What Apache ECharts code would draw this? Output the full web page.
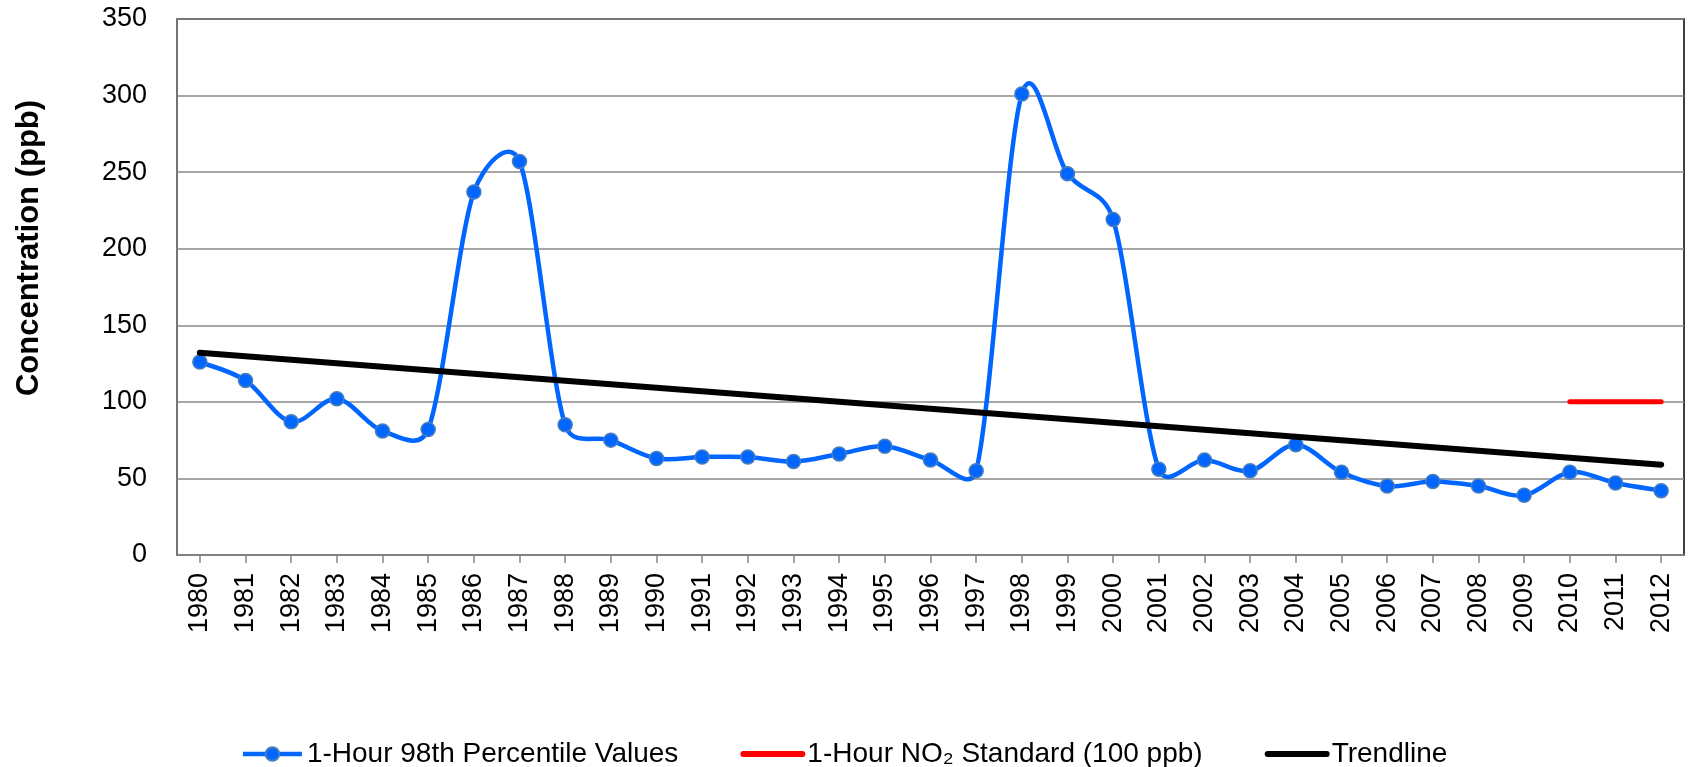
<!DOCTYPE html>
<html>
<head>
<meta charset="utf-8">
<script src="https://cdn.jsdelivr.net/npm/echarts@6/dist/echarts.min.js"></script>
<style>
  html, body {margin: 0; padding: 0; background: #fff;}
  #chart {width: 1688px; height: 767px;}
</style>
</head>
<body>
<div id="chart"></div>
<script>
const years = ['1980', '1981', '1982', '1983', '1984', '1985', '1986', '1987', '1988', '1989',
  '1990', '1991', '1992', '1993', '1994', '1995', '1996', '1997', '1998', '1999', '2000',
  '2001', '2002', '2003', '2004', '2005', '2006', '2007', '2008', '2009', '2010', '2011', '2012']

// 1-hour 98th percentile values (ppb)
const percentile98 = [126, 114, 87, 102, 81, 82, 237, 257, 85, 75,
  63, 64, 64, 61, 66, 71, 62, 55, 301, 249, 219,
  56, 62, 55, 72, 54, 45, 48, 45, 39, 54, 47, 42]

// NO2 standard, only drawn for the last years
const standard = [null, null, null, null, null, null, null, null, null, null,
  null, null, null, null, null, null, null, null, null, null, null,
  null, null, null, null, null, null, null, null, null, 100, 100, 100]

// trendline end points
const trend = [132, null, null, null, null, null, null, null, null, null,
  null, null, null, null, null, null, null, null, null, null, null,
  null, null, null, null, null, null, null, null, null, null, null, 59]

const yTicks = [0, 50, 100, 150, 200, 250, 300, 350]

const font = 'Liberation Sans, Arial, sans-serif'
const blue = '#0066ff'

// excel style smoothing: tangent (next - prev) / 6, capped at half the segment
function smoothSegments (pts) {
  const n = pts.length
  const dist = (a, b) => Math.hypot(b[0] - a[0], b[1] - a[1])
  const segs = []
  for (let i = 0; i < n - 1; i++) {
    const p0 = pts[Math.max(i - 1, 0)]
    const p1 = pts[i]
    const p2 = pts[i + 1]
    const p3 = pts[Math.min(i + 2, n - 1)]
    const d12 = dist(p1, p2)
    const d02 = dist(p0, p2)
    const d13 = dist(p1, p3)
    const f0 = d02 > 0 ? Math.min(1 / 6, d12 / (2 * d02)) : 0
    const f1 = d13 > 0 ? Math.min(1 / 6, d12 / (2 * d13)) : 0
    segs.push({
      x1: p1[0], y1: p1[1],
      cpx1: p1[0] + (p2[0] - p0[0]) * f0, cpy1: p1[1] + (p2[1] - p0[1]) * f0,
      cpx2: p2[0] - (p3[0] - p1[0]) * f1, cpy2: p2[1] - (p3[1] - p1[1]) * f1,
      x2: p2[0], y2: p2[1]
    })
  }
  return segs
}

const chart = echarts.init(document.getElementById('chart'))

chart.setOption({
  animation: false,
  grid: {
    left: 177,
    right: 4,
    top: 19,
    bottom: 212,
    show: true,
    borderColor: '#000',
    borderWidth: 1.5
  },
  legend: {
    top: 735,
    left: 'center',
    itemGap: 62,
    itemWidth: 59,
    itemHeight: 17,
    textStyle: {fontFamily: font, fontSize: 28, color: '#000'},
    data: [
      {name: '1-Hour 98th Percentile Values', lineStyle: {color: blue, width: 4.5, opacity: 1}},
      {name: '1-Hour NO₂ Standard (100 ppb)', itemStyle: {opacity: 0}, lineStyle: {color: '#ff0000', width: 6, cap: 'round'}},
      {name: 'Trendline', itemStyle: {opacity: 0}, lineStyle: {color: '#000', width: 6, cap: 'round'}}
    ]
  },
  xAxis: {
    type: 'category',
    data: years,
    boundaryGap: true,
    axisLine: {lineStyle: {color: '#868686', width: 1.5}},
    axisTick: {show: true, alignWithLabel: true, length: 8, lineStyle: {color: '#868686', width: 1.5}},
    axisLabel: {
      rotate: 90,
      interval: 0,
      fontFamily: font,
      fontSize: 27,
      color: '#000',
      margin: 18
    },
    splitLine: {show: false}
  },
  yAxis: {
    type: 'value',
    min: yTicks[0],
    max: yTicks[yTicks.length - 1],
    interval: 50,
    name: 'Concentration (ppb)',
    nameLocation: 'middle',
    nameGap: 132,
    nameRotate: 90,
    nameTextStyle: {fontFamily: font, fontSize: 31, fontWeight: 'bold', color: '#000', padding: [0, 0, 0, 78]},
    axisLine: {show: true, lineStyle: {color: '#868686', width: 1.5}},
    axisTick: {show: false},
    axisLabel: {fontFamily: font, fontSize: 27, color: '#000', margin: 30},
    splitLine: {lineStyle: {color: '#898989', width: 1.5}}
  },
  series: [
    {
      // smoothed curve through the values
      name: 'curve',
      type: 'custom',
      silent: true,
      data: percentile98.map((v, i) => [i, v]),
      z: 2,
      renderItem: function (params, api) {
        if (params.dataIndex !== 0) return null
        const pts = percentile98.map((v, i) => api.coord([i, v]))
        return {
          type: 'group',
          children: smoothSegments(pts).map(s => ({
            type: 'bezierCurve',
            shape: s,
            style: {stroke: blue, lineWidth: 4.5, fill: null, lineCap: 'round'}
          }))
        }
      }
    },
    {
      name: '1-Hour 98th Percentile Values',
      type: 'line',
      data: percentile98,
      symbol: 'circle',
      symbolSize: 14,
      lineStyle: {color: blue, width: 4.5, opacity: 0},
      itemStyle: {color: blue, borderColor: '#4a7ebb', borderWidth: 1.5},
      z: 3
    },
    {
      name: '1-Hour NO₂ Standard (100 ppb)',
      type: 'line',
      data: standard,
      symbol: 'none',
      lineStyle: {color: '#ff0000', width: 5, cap: 'round'},
      itemStyle: {color: '#ff0000'},
      z: 2
    },
    {
      name: 'Trendline',
      type: 'line',
      data: trend,
      connectNulls: true,
      symbol: 'none',
      lineStyle: {color: '#000', width: 6, cap: 'round'},
      itemStyle: {color: '#000'},
      z: 4
    }
  ]
})
</script>
</body>
</html>
